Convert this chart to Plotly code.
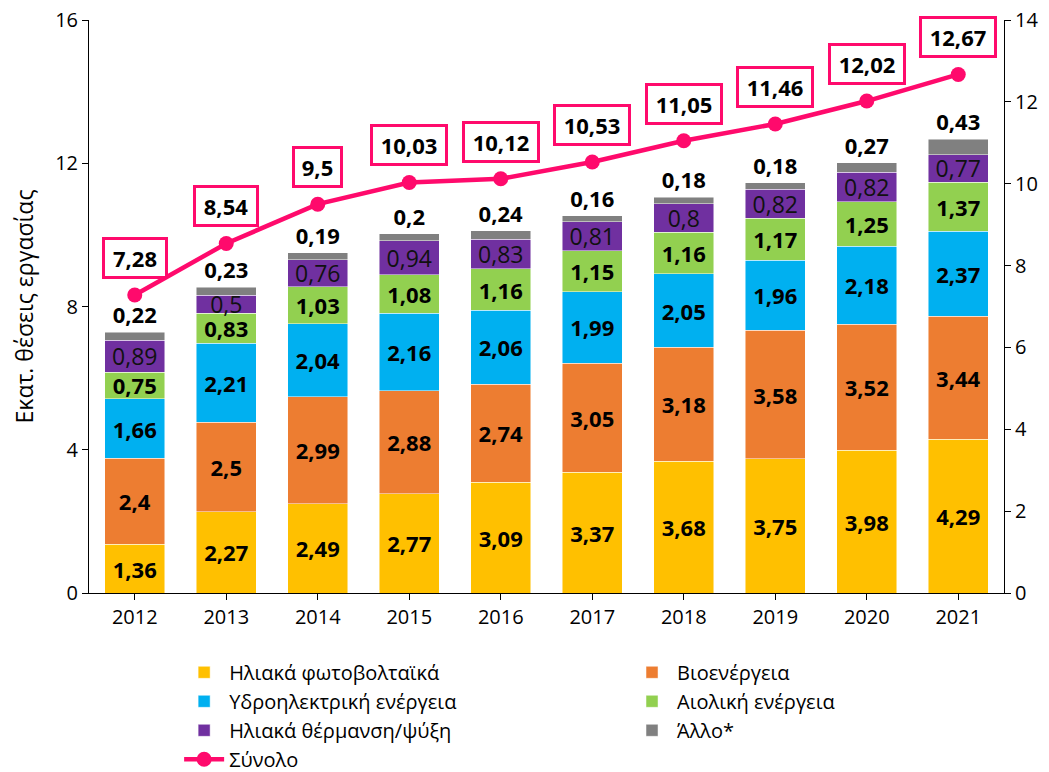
import plotly.graph_objects as go

years = ["2012", "2013", "2014", "2015", "2016", "2017", "2018", "2019", "2020", "2021"]
pv = [1.36, 2.27, 2.49, 2.77, 3.09, 3.37, 3.68, 3.75, 3.98, 4.29]
bio = [2.4, 2.5, 2.99, 2.88, 2.74, 3.05, 3.18, 3.58, 3.52, 3.44]
hydro = [1.66, 2.21, 2.04, 2.16, 2.06, 1.99, 2.05, 1.96, 2.18, 2.37]
wind = [0.75, 0.83, 1.03, 1.08, 1.16, 1.15, 1.16, 1.17, 1.25, 1.37]
heat = [0.89, 0.5, 0.76, 0.94, 0.83, 0.81, 0.8, 0.82, 0.82, 0.77]
other = [0.22, 0.23, 0.19, 0.2, 0.24, 0.16, 0.18, 0.18, 0.27, 0.43]
total = [7.28, 8.54, 9.5, 10.03, 10.12, 10.53, 11.05, 11.46, 12.02, 12.67]

names = ["Ηλιακά φωτοβολταϊκά", "Βιοενέργεια", "Υδροηλεκτρική ενέργεια",
         "Αιολική ενέργεια", "Ηλιακά θέρμανση/ψύξη", "Άλλο*"]
total_name = "Σύνολο"

FONT = "Open Sans"
PINK = "#FF0A6C"


def fmt(v):
    return ("%g" % v).replace(".", ",")


series = [pv, bio, hydro, wind, heat, other]
colors = ["#FFC000", "#ED7D31", "#00B0F0", "#92D050", "#7030A0", "#808080"]
legends = ["legend", "legend2", "legend", "legend2", "legend", "legend2"]

fig = go.Figure()
for i, (vals, name, col, lg) in enumerate(zip(series, names, colors, legends)):
    is_heat = i == 4
    is_other = i == 5
    fig.add_trace(go.Bar(
        x=years, y=vals, name=name, legend=lg,
        marker=dict(color=col, line=dict(color="rgba(255,255,255,0.6)", width=0.8)),
        text=[fmt(v) for v in vals],
        textposition="outside" if is_other else "inside",
        insidetextanchor="middle",
        textangle=0,
        constraintext="none",
        cliponaxis=False,
        textfont=dict(family=FONT, size=23 if is_heat else 22,
                      color="#111111" if is_heat else "black",
                      weight="normal" if is_heat else "bold"),
        outsidetextfont=dict(family=FONT, size=22, color="black", weight="bold"),
        yaxis="y",
    ))

fig.add_trace(go.Scatter(
    x=years, y=total, name=total_name, legend="legend",
    mode="lines+markers",
    line=dict(color=PINK, width=4.5),
    marker=dict(color=PINK, size=15),
    yaxis="y2", cliponaxis=False,
))

for idx, t in enumerate(total):
    lbl = fmt(t)
    fig.add_annotation(
        x=idx, y=t, xref="x", yref="y2",
        text="<b>%s</b>" % lbl, showarrow=False,
        font=dict(family=FONT, size=22, color="black"),
        bgcolor="white", bordercolor=PINK, borderwidth=3, borderpad=3,
        width={3: 39, 4: 54, 5: 66}.get(len(lbl), 60), height=30,
        yanchor="middle", yshift=37,
    )

axis_common = dict(showline=True, linecolor="black", linewidth=1, ticks="outside",
                   ticklen=6, tickcolor="black", showgrid=False, zeroline=False,
                   ticklabeloverflow="allow",
                   tickfont=dict(family=FONT, size=20, color="black"))

fig.update_layout(
    width=1041, height=764,
    margin=dict(l=81, r=45, t=12, b=179, autoexpand=False),
    plot_bgcolor="white", paper_bgcolor="white",
    barmode="stack", bargap=0.34,
    font=dict(family=FONT, color="black"),
    xaxis=dict(**axis_common, type="category", range=[-0.5, 9.5]),
    yaxis=dict(**axis_common, range=[0, 16], tick0=0, dtick=4,
               title=dict(text="Εκατ. θέσεις εργασίας",
                          font=dict(family=FONT, size=23, color="black"), standoff=36)),
    yaxis2=dict(**axis_common, range=[0, 14], tick0=0, dtick=2,
                overlaying="y", side="right"),
    legend=dict(x=0.0985, xref="paper", y=0.156, yref="container",
                xanchor="left", yanchor="top",
                orientation="v", traceorder="normal",
                font=dict(family=FONT, size=20, color="black"),
                bgcolor="rgba(0,0,0,0)", itemwidth=40, tracegroupgap=0),
    legend2=dict(x=0.588, xref="paper", y=0.156, yref="container",
                 xanchor="left", yanchor="top",
                 orientation="v", traceorder="normal",
                 font=dict(family=FONT, size=20, color="black"),
                 bgcolor="rgba(0,0,0,0)", itemwidth=40, tracegroupgap=0),
    showlegend=True,
)

fig.write_html("out.html")
